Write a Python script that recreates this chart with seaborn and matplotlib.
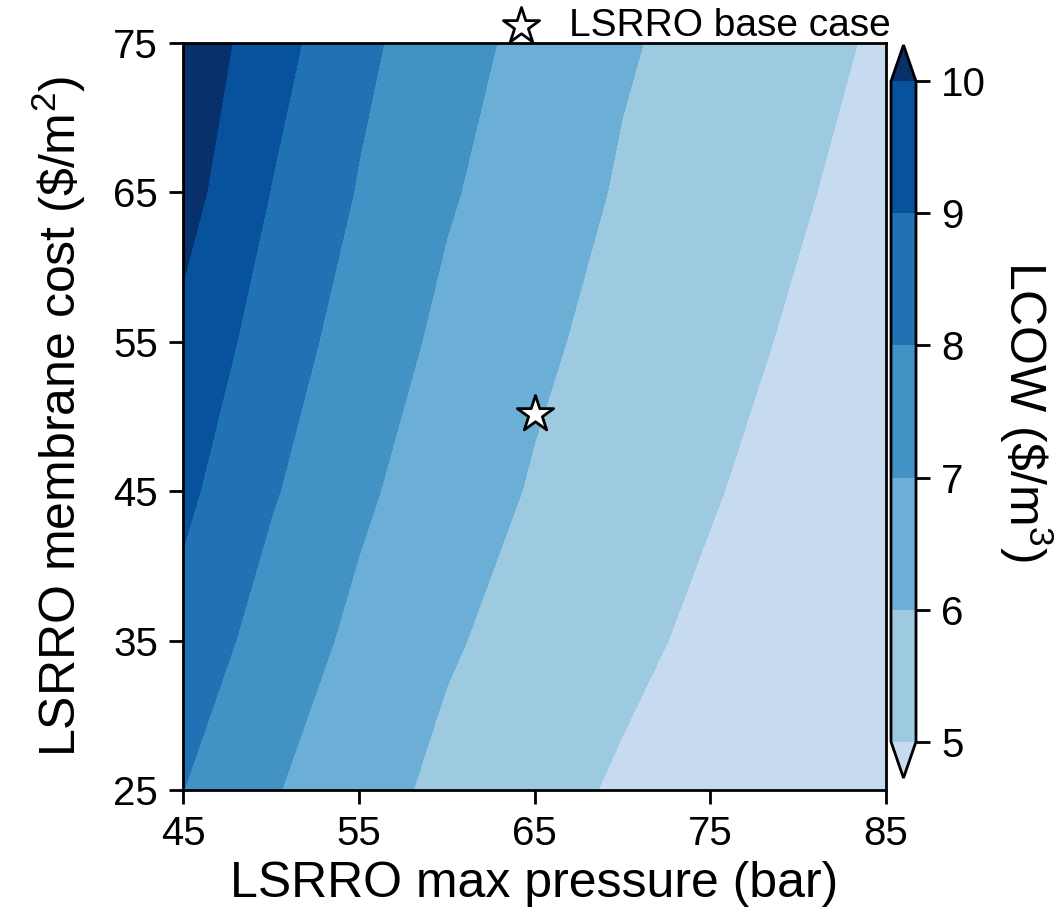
import numpy as np
import pandas as pd
import seaborn as sns
import matplotlib
matplotlib.use("Agg")
import matplotlib.pyplot as plt

# ---- data ----
pressure = [45, 50, 55, 60, 65, 70, 75, 80, 85]          # LSRRO max pressure (bar)
membrane_cost = [25, 35, 45, 55, 65, 75]                  # LSRRO membrane cost ($/m2)
lcow_c25 = [8.01, 7.09, 6.36, 5.78, 5.34, 4.87, 4.45, 4.10, 3.80]
lcow_c35 = [8.65, 7.57, 6.78, 6.10, 5.67, 5.23, 4.79, 4.40, 4.00]
lcow_c45 = [9.22, 8.10, 7.17, 6.48, 5.92, 5.50, 5.07, 4.64, 4.20]
lcow_c55 = [9.75, 8.53, 7.56, 6.78, 6.17, 5.70, 5.30, 4.88, 4.45]
lcow_c65 = [10.38, 8.98, 7.94, 7.10, 6.49, 5.90, 5.50, 5.09, 4.67]
lcow_c75 = [10.75, 9.41, 8.24, 7.40, 6.70, 6.10, 5.68, 5.27, 4.87]
levels = [5, 6, 7, 8, 9, 10]
base_pressure = [65]
base_cost = [50.2]
x_ticks = [45, 55, 65, 75, 85]
y_ticks = [25, 35, 45, 55, 65, 75]

# ---- styling ----
sns.set_theme(style="ticks")
plt.rcParams["font.family"] = ["Liberation Sans", "DejaVu Sans"]
plt.rcParams["mathtext.fontset"] = "custom"
plt.rcParams["mathtext.rm"] = "Liberation Sans"
plt.rcParams["mathtext.it"] = "Liberation Sans:italic"
plt.rcParams["mathtext.bf"] = "Liberation Sans:bold"
for k in ["text.color", "axes.labelcolor", "xtick.color", "ytick.color", "axes.edgecolor"]:
    plt.rcParams[k] = "black"

blues = ["#c6dbef", "#9ecae1", "#6baed6", "#4292c6", "#2171b5", "#08519c", "#08306b"]

rows = [lcow_c25, lcow_c35, lcow_c45, lcow_c55, lcow_c65, lcow_c75]
df = pd.DataFrame(rows, index=membrane_cost, columns=pressure)

W, H = 1064, 921
fig = plt.figure(figsize=(W / 100, H / 100), dpi=100)
ax = fig.add_axes([183 / W, 1 - 790 / H, (886 - 183) / W, (790 - 43) / H])

X, Y = np.meshgrid(df.columns.values, df.index.values)
cs = ax.contourf(X, Y, df.values, levels=levels, colors=blues, extend="both")

sns.scatterplot(x=base_pressure, y=base_cost, marker="*", s=750, color="white",
                edgecolor="black", linewidth=2, ax=ax, zorder=5,
                label="LSRRO base case")

ax.set_xlim(45, 85)
ax.set_ylim(25, 75)
ax.set_xticks(x_ticks)
ax.set_yticks(y_ticks)
ax.tick_params(direction="out", length=10, width=2, labelsize=29, pad=8)
for s in ax.spines.values():
    s.set_linewidth(2)
    s.set_color("black")
ax.set_xlabel("LSRRO max pressure (bar)", fontsize=36, labelpad=6)
ax.set_ylabel(r"LSRRO membrane cost (\$/m$^2$)", fontsize=36, labelpad=18)

leg = ax.legend(loc="center right", bbox_to_anchor=(891 / W, 1 - 26 / H),
                bbox_transform=fig.transFigure, frameon=False, fontsize=28,
                borderpad=0, borderaxespad=0, handlelength=1.0, handletextpad=0.75)

cax = fig.add_axes([891 / W, 1 - 778 / H, 25 / W, (778 - 45) / H])
cbar = fig.colorbar(cs, cax=cax, ticks=levels, extendfrac=0.055)
cbar.outline.set_linewidth(2)
cbar.ax.tick_params(direction="out", length=10, width=2, labelsize=29, pad=8)
cbar.set_label(r"LCOW (\$/m$^3$)", rotation=270, fontsize=36, labelpad=50)

fig.savefig("out.png", dpi=100)
